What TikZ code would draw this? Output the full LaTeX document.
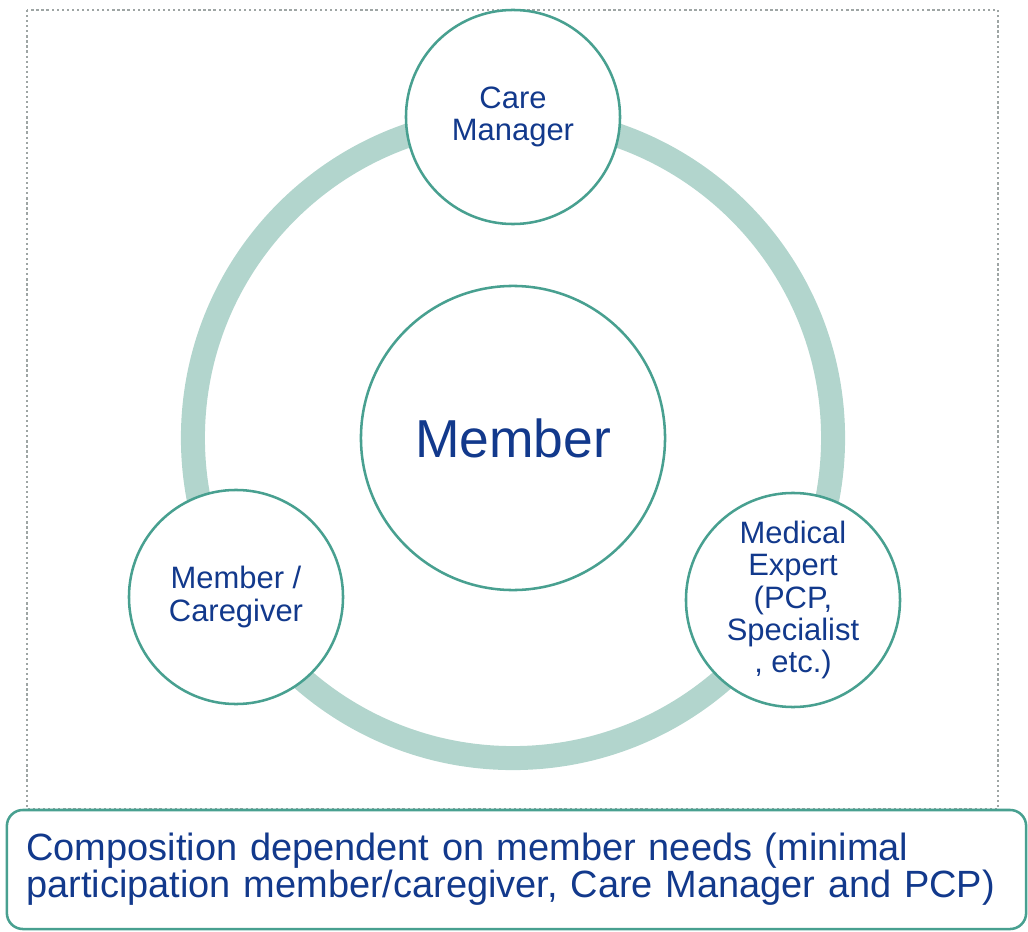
\documentclass[tikz,border=0pt]{standalone}
\usepackage{fontspec}
\setmainfont{Liberation Sans}
\usetikzlibrary{positioning}

\definecolor{rimteal}{HTML}{48A090}
\definecolor{ringteal}{HTML}{B2D5CD}
\definecolor{textblue}{HTML}{12398C}
\definecolor{dotgray}{HTML}{9EA5A4}

\tikzset{
  role/.style={circle, draw=rimteal, line width=1.8pt, fill=white, inner sep=0pt,
    minimum size=5.35cm, align=center, text=textblue, font=\fontsize{22}{23}\selectfont},
  hub/.style={role, minimum size=7.6cm, font=\fontsize{38}{40}\selectfont},
  notebox/.style={draw=rimteal, line width=1.8pt, rounded corners=0.4cm, fill=white,
    minimum width=25.475cm, minimum height=2.975cm, text width=24.5cm,
    inner xsep=0.4875cm, inner ysep=0pt, align=left, text=textblue,
    font=\fontsize{27}{26.5}\selectfont},
  frame/.style={dotgray, line width=1.4pt, dash pattern=on 1.6pt off 2pt}
}

\begin{document}
\begin{tikzpicture}[x=0.025cm,y=-0.025cm]
\useasboundingbox (0,0) rectangle (1028,932);

% dotted frame round the team
\draw[frame] (27,10) rectangle (998,809);

\coordinate (ringc) at (513,438);
\draw[ringteal, line width=0.6cm] (ringc) circle [radius=8cm];

\node (member) at (ringc) [hub] {Member};
\node (care) at (513,117) [role] {Care\\Manager};
\node (giver) at (236,597) [role] {Member /\\Caregiver};
\node (expert) at (793,600) [role] {Medical\\Expert\\(PCP,\\Specialist\\, etc.)};

\node (note) at (516.5,869.5) [notebox] {Composition dependent on member needs (minimal\\participation member/caregiver, Care Manager and PCP)};
\end{tikzpicture}
\end{document}
